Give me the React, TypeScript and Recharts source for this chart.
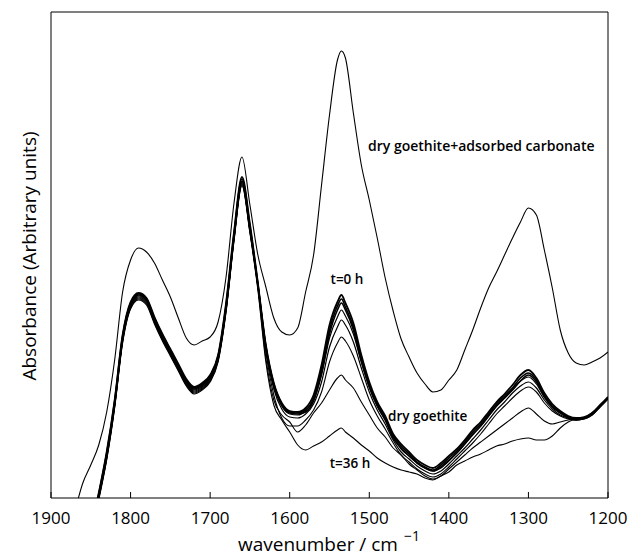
import { LineChart, Line, XAxis, YAxis, ReferenceArea } from "recharts";

// wavenumber grid (cm^-1), high to low as in the plot
const wavenumbers = [
  1880, 1870, 1860, 1850, 1840, 1830, 1820, 1810, 1800, 1790,
  1780, 1770, 1760, 1750, 1740, 1730, 1720, 1710, 1700, 1690,
  1680, 1670, 1660, 1650, 1640, 1630, 1620, 1610, 1600, 1590,
  1580, 1570, 1560, 1550, 1540, 1535,
  1530, 1520, 1510, 1500, 1490, 1480, 1470, 1460, 1450, 1440,
  1430, 1420, 1410, 1400, 1390, 1380, 1370, 1360, 1350, 1340,
  1330, 1320, 1310, 1300, 1290, 1280, 1270, 1260, 1250, 1240,
  1230, 1220, 1210, 1200,
];

// dry goethite + adsorbed carbonate
const carbonate = [
  -32, -12, 15, 33, 53, 86, 138, 206, 238, 250,
  246, 235, 218, 201, 180, 160, 153, 157, 161, 176,
  221, 295, 341, 293, 243, 211, 180, 166, 163, 170,
  206, 243, 313, 383, 438, 447,
  440, 385, 333, 298, 260, 220, 187, 159, 141, 125,
  114, 106, 108, 118, 128, 148, 168, 190, 210, 226,
  243, 260, 276, 290, 283, 248, 210, 168, 145, 135,
  133, 136, 140, 146,
];

// t = 0 h bundle
const t0a = [
  -151, -112, -72, -33, 5, 46, 98, 163, 196, 205,
  200, 181, 164, 149, 134, 119, 111, 115, 123, 143,
  195, 266, 321, 274, 215, 153, 115, 95, 87, 86,
  90, 103, 133, 173, 196, 203,
  195, 175, 143, 116, 96, 82, 64, 54, 46, 38,
  33, 30, 35, 42, 49, 58, 68, 76, 86, 96,
  104, 113, 123, 128, 120, 105, 94, 87, 82, 80,
  81, 85, 93, 101,
];
const t0b = [
  -152, -113, -73, -34, 4, 45, 97, 162, 195, 204,
  199, 180, 163, 148, 133, 118, 110, 114, 122, 142,
  193, 264, 319, 272, 214, 152, 114, 94, 86, 85,
  88, 100, 129, 168, 192, 199,
  191, 171, 140, 113, 94, 80, 62, 52, 44, 36,
  31, 28, 33, 40, 47, 56, 66, 74, 84, 94,
  102, 110, 120, 125, 118, 103, 92, 86, 81, 79,
  80, 85, 92, 100,
];
const t0c = [
  -154, -115, -75, -36, 3, 43, 95, 160, 194, 203,
  198, 179, 162, 147, 132, 117, 109, 113, 121, 141,
  191, 262, 317, 270, 213, 151, 113, 93, 85, 84,
  86, 97, 125, 164, 188, 195,
  188, 168, 137, 111, 92, 78, 60, 50, 42, 35,
  30, 27, 31, 38, 45, 54, 64, 72, 82, 92,
  100, 108, 117, 123, 116, 101, 91, 85, 80, 78,
  80, 84, 92, 100,
];
// later times
const tA = [
  -155, -116, -76, -37, 2, 42, 94, 159, 193, 202,
  197, 178, 161, 146, 131, 116, 108, 112, 120, 140,
  190, 261, 316, 269, 214, 151, 112, 92, 84, 83,
  87, 98, 123, 160, 181, 188,
  182, 164, 136, 111, 92, 78, 61, 49, 42, 35,
  30, 27, 30, 37, 45, 54, 63, 72, 82, 92,
  100, 109, 117, 121, 114, 101, 91, 85, 81, 79,
  80, 84, 92, 100,
];
const tB = [
  -156, -117, -77, -38, 1, 41, 93, 158, 192, 201,
  196, 177, 160, 145, 130, 115, 107, 111, 119, 139,
  189, 260, 315, 268, 213, 149, 109, 89, 81, 80,
  84, 94, 116, 151, 171, 178,
  173, 156, 130, 106, 88, 74, 58, 46, 39, 32,
  27, 24, 27, 34, 42, 50, 59, 68, 78, 88,
  96, 105, 112, 116, 110, 98, 89, 83, 80, 78,
  79, 83, 91, 99,
];
const tC = [
  -157, -118, -78, -39, 0, 40, 92, 157, 191, 200,
  195, 176, 159, 144, 129, 114, 106, 110, 118, 138,
  188, 259, 314, 267, 212, 146, 103, 80, 72, 72,
  78, 88, 106, 136, 155, 161,
  157, 142, 120, 98, 82, 69, 55, 43, 36, 29,
  24, 21, 24, 31, 39, 47, 55, 64, 74, 84,
  92, 100, 107, 111, 106, 95, 87, 82, 79, 78,
  79, 83, 91, 99,
];
const tD = [
  -158, -119, -79, -40, -1, 39, 91, 156, 190, 199,
  194, 175, 158, 143, 128, 113, 105, 109, 117, 137,
  187, 258, 313, 266, 210, 140, 98, 83, 76, 66,
  73, 85, 95, 108, 120, 123,
  118, 110, 96, 83, 70, 61, 50, 43, 34, 28,
  22, 19, 22, 29, 36, 43, 50, 56, 62, 68,
  74, 80, 86, 90, 84, 77, 74, 76, 78, 79,
  80, 84, 92, 100,
];
// t = 36 h
const t36 = [
  -159, -120, -80, -41, -2, 38, 90, 155, 189, 198,
  193, 174, 157, 142, 127, 112, 104, 108, 116, 136,
  186, 257, 312, 265, 208, 136, 93, 78, 66, 53,
  48, 52, 56, 62, 68, 70,
  66, 60, 53, 47, 40, 35, 31, 28, 26, 24,
  20, 18, 22, 26, 33, 37, 41, 44, 48, 52,
  54, 57, 59, 60, 58, 58, 62, 70, 76, 79,
  80, 84, 92, 100,
];

const xTicks = [1900, 1800, 1700, 1600, 1500, 1400, 1300, 1200];

const series = [
  { key: "carbonate", values: carbonate, width: 1.1 },
  { key: "t0a", values: t0a, width: 1.8 },
  { key: "t0b", values: t0b, width: 1.6 },
  { key: "t0c", values: t0c, width: 1.6 },
  { key: "tA", values: tA, width: 1.2 },
  { key: "tB", values: tB, width: 1.2 },
  { key: "tC", values: tC, width: 1.1 },
  { key: "tD", values: tD, width: 1.1 },
  { key: "t36", values: t36, width: 1.1 },
];

const data = wavenumbers.map((w, i) => {
  const row: Record<string, number> = { w };
  series.forEach((s) => (row[s.key] = s.values[i]));
  return row;
});

const FONT = "'Open Sans', 'DejaVu Sans', sans-serif";

// inward tick + label under the axis
function BottomTick(props: any) {
  const { x, y, payload } = props;
  return (
    <g>
      <line x1={x} y1={y} x2={x} y2={y - 6} stroke="#000" strokeWidth={1} />
      <text x={x} y={y + 26} textAnchor="middle" fontSize={17} fontFamily={FONT} fill="#000">
        {payload.value}
      </text>
    </g>
  );
}

function TopTick(props: any) {
  const { x, y } = props;
  return <line x1={x} y1={y} x2={x} y2={y + 6} stroke="#000" strokeWidth={1} />;
}

export default function App() {
  return (
    <div style={{ position: "absolute", left: 0, top: 0, background: "#fff" }}>
      <LineChart
        width={629}
        height={556}
        data={data}
        margin={{ top: 12, right: 21, left: 0, bottom: 0 }}
        style={{ fontFamily: FONT }}
      >
        <XAxis
          dataKey="w"
          type="number"
          domain={[1200, 1900]}
          reversed
          allowDataOverflow
          ticks={xTicks}
          height={58}
          tickSize={0}
          tickMargin={0}
          tickLine={false}
          axisLine={false}
          tick={BottomTick}
          interval={0}
        />
        <XAxis
          xAxisId="top"
          orientation="top"
          dataKey="w"
          type="number"
          domain={[1200, 1900]}
          reversed
          allowDataOverflow
          ticks={xTicks}
          height={0}
          tickSize={0}
          tickMargin={0}
          tickLine={false}
          axisLine={false}
          tick={TopTick}
          interval={0}
        />
        <YAxis
          type="number"
          domain={[0, 486]}
          allowDataOverflow
          width={51}
          tick={false}
          tickLine={false}
          axisLine={false}
        />
        <ReferenceArea
          x1={1900}
          x2={1200}
          y1={0}
          y2={486}
          fill="none"
          stroke="#000"
          strokeWidth={1}
          fillOpacity={0}
        />
        {series.map((s) => (
          <Line
            key={s.key}
            dataKey={s.key}
            type="monotone"
            stroke="#000"
            strokeWidth={s.width}
            dot={false}
            isAnimationActive={false}
          />
        ))}
        <text x={368} y={151} fontSize={14} fontWeight={600} fontFamily={FONT} fill="#000">
          dry goethite+adsorbed carbonate
        </text>
        <text x={347} y={284} fontSize={13.5} fontWeight={600} fontFamily={FONT} fill="#000" textAnchor="middle">
          t=0 h
        </text>
        <text x={388} y={421} fontSize={13.5} fontWeight={600} fontFamily={FONT} fill="#000">
          dry goethite
        </text>
        <text x={350} y={468} fontSize={13.5} fontWeight={600} fontFamily={FONT} fill="#000" textAnchor="middle">
          t=36 h
        </text>
        <text x={238} y={551} fontSize={19} fontFamily={FONT} fill="#000">
          wavenumber / cm
          <tspan dx={6} dy={-10} fontSize={14}>−1</tspan>
        </text>
        <text
          x={36}
          y={256}
          fontSize={19}
          fontFamily={FONT}
          fill="#000"
          textAnchor="middle"
          transform="rotate(-90 36 256)"
        >
          Absorbance (Arbitrary units)
        </text>
      </LineChart>
    </div>
  );
}
